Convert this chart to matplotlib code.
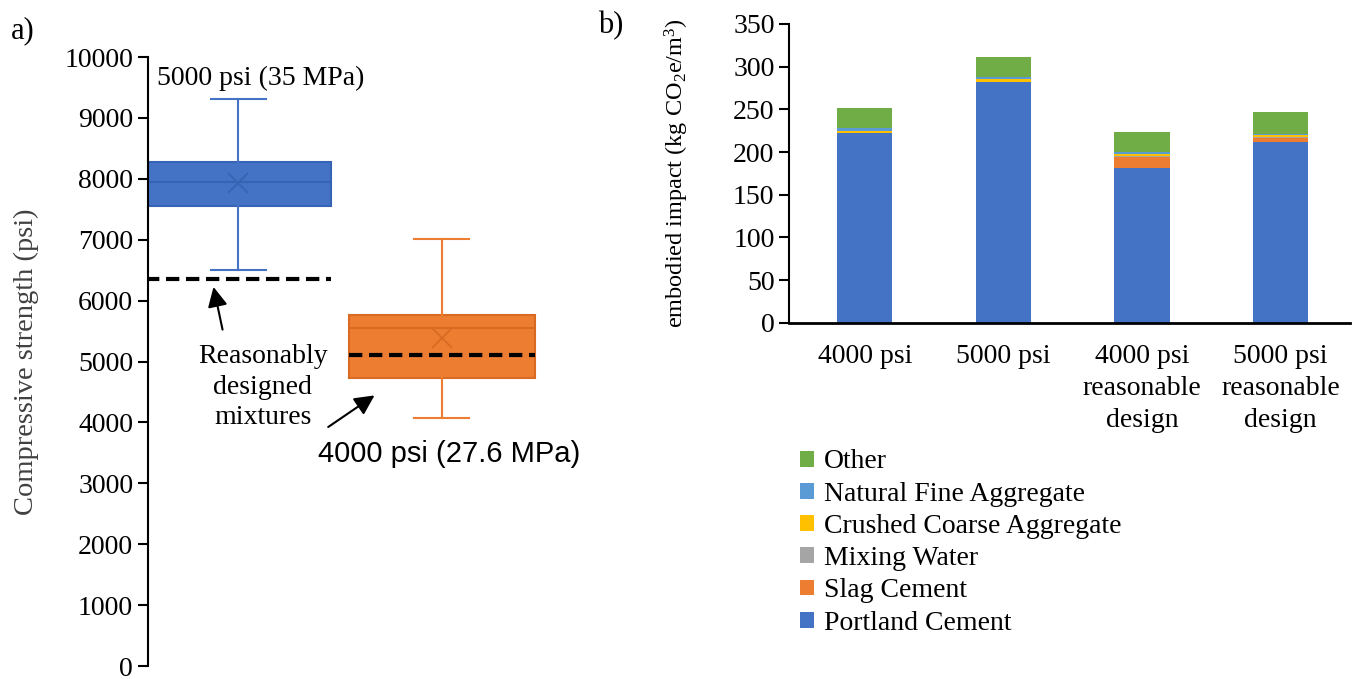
import matplotlib
matplotlib.use("Agg")
import matplotlib.pyplot as plt

plt.rcParams['font.family'] = 'Liberation Serif'
plt.rcParams['mathtext.fontset'] = 'custom'
plt.rcParams['mathtext.rm'] = 'Liberation Serif'
plt.rcParams['mathtext.it'] = 'Liberation Serif:italic'

# a) compressive strength box plots (psi)
box_names = ["5000 psi (35 MPa)", "4000 psi (27.6 MPa)"]
whis_lo = [6500, 4075]
q1 = [7550, 4725]
median = [7950, 5550]
q3 = [8280, 5765]
whis_hi = [9310, 7020]
mean = [7930, 5385]
reasonable = [6350, 5100]
box_colors = ["#4472C4", "#ED7D31"]
box_edges = ["#3763B4", "#D86A22"]

# b) embodied impact stacked bars (kg CO2e/m3)
mixes = ["4000 psi", "5000 psi", "4000 psi\nreasonable\ndesign", "5000 psi\nreasonable\ndesign"]
portland = [222, 282, 181.5, 212]
slag = [0, 0, 13, 4.7]
water = [0.3, 0.3, 0.3, 0.3]
coarse = [2.7, 2.8, 2.4, 2.4]
fine = [3.0, 2.6, 2.4, 2.0]
other = [23.5, 23.5, 24, 25.5]
components = [("Portland Cement", portland, "#4472C4"),
              ("Slag Cement", slag, "#ED7D31"),
              ("Mixing Water", water, "#A5A5A5"),
              ("Crushed Coarse Aggregate", coarse, "#FFC000"),
              ("Natural Fine Aggregate", fine, "#5B9BD5"),
              ("Other", other, "#70AD47")]

fig = plt.figure(figsize=(13.56, 6.79), dpi=100)

# ---- panel a ----
ax1 = fig.add_axes([0.109, 0.019, 0.31, 0.897])
stats = []
for i in range(2):
    stats.append(dict(med=median[i], q1=q1[i], q3=q3[i], whislo=whis_lo[i],
                      whishi=whis_hi[i], mean=mean[i], fliers=[]))
pos = [1, 2]
for i in range(2):
    ax1.bxp([stats[i]], positions=[pos[i]], widths=0.91, capwidths=0.27,
            patch_artist=True, showmeans=True,
            boxprops=dict(facecolor=box_colors[i], edgecolor=box_edges[i], lw=1.5),
            medianprops=dict(color=box_edges[i], lw=1.5),
            whiskerprops=dict(color=box_colors[i], lw=1.5),
            capprops=dict(color=box_colors[i], lw=1.5),
            meanprops=dict(marker='x', markeredgecolor=box_edges[i], markersize=14,
                           markeredgewidth=1.3))
for i in range(2):
    ax1.hlines(reasonable[i], pos[i] - 0.455, pos[i] + 0.455, colors='black',
               lw=3, linestyles=(0, (3.2, 1.6)), zorder=5)

ax1.set_ylim(0, 10000)
ax1.set_xlim(0.555, 2.62)
ax1.set_yticks(range(0, 10001, 1000))
ax1.tick_params(axis='y', labelsize=20, direction='out', length=7, width=1.5)
ax1.set_xticks([])
for s in ['top', 'right', 'bottom']:
    ax1.spines[s].set_visible(False)
ax1.spines['left'].set_linewidth(1.5)
ax1.set_ylabel("Compressive strength (psi)", fontsize=20.5, color='#404040', labelpad=18)

ax1.text(0.6, 9650, box_names[0], fontsize=20, ha='left', va='center')
ax1.text(1.39, 3480, box_names[1], fontsize=21, ha='left', va='center', family='Liberation Sans')
ax1.text(1.12, 4580, "Reasonably\ndesigned\nmixtures", fontsize=20, ha='center', va='center',
         linespacing=1.3)
ax1.annotate("", xy=(0.875, 6270), xytext=(0.925, 5480),
             arrowprops=dict(arrowstyle='-|>', color='black', lw=1.5, mutation_scale=30))
ax1.annotate("", xy=(1.68, 4470), xytext=(1.43, 3900),
             arrowprops=dict(arrowstyle='-|>', color='black', lw=1.5, mutation_scale=30))

fig.text(0.008, 0.955, "a)", fontsize=22, ha='left', va='center')
fig.text(0.441, 0.962, "b)", fontsize=22, ha='left', va='center')

# ---- panel b ----
ax2 = fig.add_axes([0.582, 0.5247, 0.4136, 0.44])
x = range(len(mixes))
bottom = [0.0] * len(mixes)
handles = []
for name, vals, col in components:
    b = ax2.bar(x, vals, 0.40, bottom=bottom, color=col, label=name)
    handles.append(b)
    bottom = [bb + v for bb, v in zip(bottom, vals)]

ax2.set_ylim(0, 350)
ax2.set_xlim(-0.545, 3.5)
ax2.set_yticks(range(0, 351, 50))
ax2.set_xticks(list(x))
ax2.set_xticklabels(mixes, fontsize=20, linespacing=1.38)
ax2.tick_params(axis='y', labelsize=20, direction='out', length=7, width=1.5)
ax2.tick_params(axis='x', length=0, pad=15)
for s in ['top', 'right']:
    ax2.spines[s].set_visible(False)
ax2.spines['left'].set_linewidth(1.5)
ax2.spines['bottom'].set_linewidth(2)
ax2.set_ylabel(r"embodied impact (kg CO$_2$e/m$^3$)", fontsize=17.5, labelpad=30)

fig.legend(handles[::-1], [c[0] for c in components][::-1], loc='upper left',
           bbox_to_anchor=(0.590, 0.338), frameon=False, fontsize=20,
           handlelength=0.5, handleheight=0.5, handletextpad=0.35, labelspacing=0.26,
           borderaxespad=0, borderpad=0)

fig.savefig("out.png", dpi=100)
